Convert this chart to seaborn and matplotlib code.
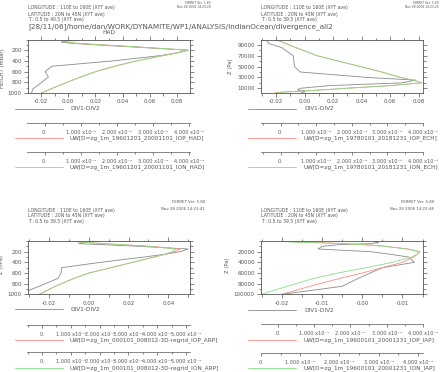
import numpy as np
import pandas as pd
import matplotlib
matplotlib.use("Agg")
import matplotlib.pyplot as plt
import seaborn as sns
from matplotlib.lines import Line2D
from matplotlib.ticker import FixedLocator, MultipleLocator, FormatStrFormatter

sns.set_theme(style="white")
plt.rcParams['font.family'] = ['DejaVu Sans']
plt.rcParams['axes.unicode_minus'] = False

# ---------------- data ----------------
LEV_HPA = [1000, 925, 850, 700, 600, 500, 400, 300, 250, 200, 150, 100, 70, 50, 30, 20, 10]
LEV_PA = [100000, 92500, 85000, 70000, 60000, 50000, 40000, 30000, 25000, 20000,
          15000, 10000, 7000, 5000, 3000, 2000, 1000]

HAD_DIV = [-0.027, -0.026, -0.022, -0.0146, -0.017, -0.012, 0.033, 0.068, 0.080, 0.088,
           0.055, 0.020, 0.002, -0.005, -0.004, 0.000, 0.002]
HAD_IOP = [-0.0197, -0.0128, -0.0058, 0.0093, 0.0203, 0.0343, 0.0503, 0.0702, 0.0801, 0.0881,
           0.0582, 0.0252, 0.0058, -0.0012, -0.0035, 0.004, 0.000]
HAD_ION = [-0.020, -0.013, -0.006, 0.009, 0.020, 0.034, 0.050, 0.070, 0.080, 0.088,
           0.058, 0.025, 0.006, -0.001, -0.003, 0.008, 0.005]

ECH_DIV = [-0.027, -0.025, -0.016, -0.008, -0.0075, -0.007, -0.003, 0.044, 0.078, 0.068,
           0.018, -0.003, -0.005, 0.000, 0.000, -0.002, -0.002]
ECH_IOP = [-0.0205, -0.0134, -0.0062, 0.0088, 0.0238, 0.0392, 0.0542, 0.0672, 0.0762, 0.0822,
           0.0602, 0.0292, 0.0118, -0.0002, -0.0155, -0.0200, -0.0210]
ECH_ION = [-0.020, -0.013, -0.006, 0.009, 0.024, 0.039, 0.054, 0.067, 0.076, 0.082,
           0.060, 0.029, 0.012, 0.000, -0.015, -0.019, -0.019]

ARP_DIV = [-0.034, -0.030, -0.025, -0.0155, -0.014, -0.0137, 0.006, 0.028, 0.038, 0.046,
           0.050, 0.025, 0.008, -0.005, -0.003, 0.000, 0.002]
ARP_IOP = [-0.0248, -0.0208, -0.0168, -0.0073, 0.0002, 0.0112, 0.0222, 0.0332, 0.0385, 0.043,
           0.046, 0.032, 0.018, 0.008, 0.000, -0.004, -0.006]
ARP_ION = [-0.025, -0.021, -0.017, -0.0075, 0.000, 0.011, 0.022, 0.033, 0.038, 0.042,
           0.044, 0.030, 0.017, 0.008, 0.000, -0.004, -0.007]

IAP_DIV = [-0.020, -0.0125, -0.005, -0.001, 0.002, 0.005, 0.013, 0.0115, 0.007, 0.002,
           -0.011, -0.010, -0.006, 0.002, 0.004, 0.0035, 0.003]
IAP_IOP = [-0.020, -0.0165, -0.013, -0.0055, 0.000, 0.005, 0.010, 0.0128, 0.0136, 0.014,
           0.0115, 0.006, 0.001, -0.004, -0.011, -0.015, -0.018]
IAP_ION = [-0.025, -0.022, -0.0187, -0.012, -0.006, 0.001, 0.0075, 0.0122, 0.0137, 0.0144,
           0.011, 0.0055, 0.000, -0.005, -0.013, -0.017, -0.020]

SERIES = ['DIV1-DIV2', 'IOP', 'ION']
COLORS = {'DIV1-DIV2': '#8a8a8a', 'IOP': '#ff8a8a', 'ION': '#86de86'}

HEADER_LON = "LONGITUDE : 110E to 160E (XYT ave)"
HEADER_LAT = "LATITUDE : 20N to 45N (XYT ave)"
T_HAD = "T : 0.5 to 40.5 (XYT ave)"
T_OTHER = "T : 0.5 to 39.5 (XYT ave)"
PATH_TITLE = "[28/11/06]/home/dan/WORK/DYNAMITE/WP1/ANALYSIS/IndianOcean/divergence_all2"

LABELS_HAD = ["UW[D=zg_1m_19601201_20001101_IOP_HAD]", "UW[D=zg_1m_19601201_20001101_ION_HAD]"]
LABELS_ECH = ["UW[D=zg_1m_19780101_20181231_IOP_ECH]", "UW[D=zg_1m_19780101_20181231_ION_ECH]"]
LABELS_ARP = ["UW[D=zg_1m_000101_008012-3D-regrid_IOP_ARP]", "UW[D=zg_1m_000101_008012-3D-regrid_ION_ARP]"]
LABELS_IAP = ["UW[D=zg_1m_19600101_20001231_IOP_IAP]", "UW[D=zg_1m_19600101_20001231_ION_IAP]"]

SUP = {-3: "\u207b\u00b3", -4: "\u207b\u2074"}

# ---------------- figure ----------------
W, H = 442, 372
fig = plt.figure(figsize=(W / 100, H / 100), dpi=100)
fig.patch.set_facecolor('white')
TXT = '#555555'
FRAME = '#555555'


def rect(x0, y0, x1, y1):
    return [x0 / W, 1 - y1 / H, (x1 - x0) / W, (y1 - y0) / H]


def fx(x):
    return x / W


def fy(y):
    return 1 - y / H


def long_df(levels, div, iop, ion):
    frames = []
    for name, vals in zip(SERIES, [div, iop, ion]):
        frames.append(pd.DataFrame({'div': vals, 'p': levels, 'series': name}))
    return pd.concat(frames, ignore_index=True)


panels = [
    dict(levels=LEV_HPA, div=HAD_DIV, iop=HAD_IOP, ion=HAD_ION,
         box=(28, 39.5, 190, 93), xlim=(-0.0296, 0.0896), ylim=(1000, 0),
         xt=[-0.02, 0.0, 0.02, 0.04, 0.06, 0.08], xm=0.01,
         yt=[200, 400, 600, 800, 1000], ym=100,
         ylabel="HEIGHT (mbar)", ylab_px=(5, 68),
         hx=28, hy=[8, 14.3, 20], tline=T_HAD,
         stamp=(211, 3, 7, "Nov 28 2006 14:23:20", 2.2),
         rulers=[(27, 190, 123.3, 44.5, 36.2, 4, -4), (27, 190, 151.7, 44.5, 36.2, 4, -4)],
         leg=(15, 63, 70, [109, 138.3, 167.3]), labels=LABELS_HAD),
    dict(levels=LEV_PA, div=ECH_DIV, iop=ECH_IOP, ion=ECH_ION,
         box=(261, 40, 423, 92.7), xlim=(-0.0305, 0.083), ylim=(1850, 99000),
         xt=[-0.02, 0.0, 0.02, 0.04, 0.06, 0.08], xm=0.01,
         yt=[10000, 30000, 50000, 70000, 90000], ym=10000,
         ylabel="Z (Pa)", ylab_px=(233, 66),
         hx=261, hy=[8, 14.3, 20], tline=T_OTHER,
         stamp=(439, 3, 7, "Nov 28 2006 14:23:25", 2.2),
         rulers=[(261, 423, 123.3, 280.5, 35.6, 4, -3), (261, 423, 152.3, 280.5, 35.6, 4, -3)],
         leg=(248, 296, 304, [109, 138.3, 167.3]), labels=LABELS_ECH),
    dict(levels=LEV_HPA, div=ARP_DIV, iop=ARP_IOP, ion=ARP_ION,
         box=(28, 241, 190, 294.3), xlim=(-0.0306, 0.0509), ylim=(1000, 0),
         xt=[-0.02, 0.0, 0.02, 0.04], xm=0.01,
         yt=[200, 400, 600, 800, 1000], ym=100,
         ylabel="Z (hPa)", ylab_px=(4, 265),
         hx=28, hy=[210, 215.7, 221.3], tline=T_OTHER,
         stamp=(205, 202, 209, "Nov 28 2006 14:23:41", 2.8),
         rulers=[(27, 190, 325, 42, 28.8, 5, -4), (27, 190, 351.7, 42, 28.8, 5, -4)],
         leg=(15, 63, 70, [309.3, 340, 368.3]), labels=LABELS_ARP),
    dict(levels=LEV_PA, div=IAP_DIV, iop=IAP_IOP, ion=IAP_ION,
         box=(261, 241, 423, 294.3), xlim=(-0.0252, 0.0151), ylim=(100000, 0),
         xt=[-0.02, -0.01, 0.0, 0.01], xm=0.005,
         yt=[20000, 40000, 60000, 80000, 100000], ym=10000,
         ylabel="Z (Pa)", ylab_px=(230, 265),
         hx=261, hy=[210, 215.7, 221.3], tline=T_OTHER,
         stamp=(434, 202, 209, "Nov 28 2006 14:23:44", 2.8),
         rulers=[(261, 423, 324, 278, 36.2, 4, -4), (261, 423, 352.7, 261, 39.2, 4, -4)],
         leg=(248, 296, 304, [310, 340, 368.3]), labels=LABELS_IAP),
]

for P in panels:
    x0, y0, x1, y1 = P['box']
    ax = fig.add_axes(rect(x0, y0, x1, y1))
    ax.set_facecolor('none')
    df = long_df(P['levels'], P['div'], P['iop'], P['ion'])
    sns.lineplot(data=df, x='div', y='p', hue='series', hue_order=SERIES,
                 palette=COLORS, sort=False, estimator=None, legend=False,
                 lw=0.6, ax=ax)
    ax.set_xlim(*P['xlim'])
    ax.set_ylim(*P['ylim'])
    ax.xaxis.set_major_locator(FixedLocator(P['xt']))
    ax.xaxis.set_minor_locator(MultipleLocator(P['xm']))
    ax.xaxis.set_major_formatter(FormatStrFormatter('%.2f'))
    ax.yaxis.set_major_locator(FixedLocator(P['yt']))
    ax.yaxis.set_minor_locator(MultipleLocator(P['ym']))
    ax.yaxis.set_major_formatter(FormatStrFormatter('%d'))
    ax.set_xlabel('')
    ax.set_ylabel(P['ylabel'], fontsize=3.8, color=TXT)
    lx, ly = P['ylab_px']
    ax.yaxis.set_label_coords((lx - x0) / (x1 - x0), 1 - (ly - y0) / (y1 - y0))
    for s in ax.spines.values():
        s.set_color(FRAME)
        s.set_linewidth(0.6)
    ax.tick_params(which='both', direction='out', top=True, right=True,
                   bottom=True, left=True, color=FRAME, width=0.5,
                   labelsize=4, labelcolor=TXT, pad=1.5)
    ax.tick_params(which='major', length=3)
    ax.tick_params(which='minor', length=1.8)

    # header
    for yy, t in zip(P['hy'], [HEADER_LON, HEADER_LAT, P['tline']]):
        fig.text(fx(P['hx']), fy(yy), t, fontsize=3.3, color=TXT, ha='left', va='center')
    sx, sy1, sy2, date, fs = P['stamp']
    fig.text(fx(sx), fy(sy1), "FERRET Ver. 5.80", fontsize=fs, color=TXT, ha='right', va='center')
    fig.text(fx(sx), fy(sy2), date, fontsize=fs, color=TXT, ha='right', va='center')

    # extra axes (rulers) for the overlaid UW variables
    for (rx0, rx1, ry, zero, step, n, ex) in P['rulers']:
        rax = fig.add_axes(rect(rx0, ry - 1, rx1, ry))
        rax.set_facecolor('none')
        unit = 10.0 ** ex
        rax.set_xlim((rx0 - zero) / step * unit, (rx1 - zero) / step * unit)
        rax.set_ylim(0, 1)
        rax.set_yticks([])
        ticks = [k * unit for k in range(n + 1)]
        labs = ['0.'] + [f'{k}.000 x10{SUP[ex]}' for k in range(1, n + 1)]
        rax.set_xticks(ticks)
        rax.set_xticklabels(labs)
        rax.xaxis.set_minor_locator(MultipleLocator(unit / 2))
        for k, s in rax.spines.items():
            s.set_visible(k == 'bottom')
            s.set_color(FRAME)
            s.set_linewidth(0.5)
        rax.tick_params(which='both', direction='out', bottom=True, color=FRAME,
                        width=0.5, labelsize=3.6, labelcolor=TXT, pad=2.5)
        rax.tick_params(which='major', length=2.5)
        rax.tick_params(which='minor', length=1.5)

    # legend keys
    lx0, lx1, tx, ys = P['leg']
    for yy, name, lab in zip(ys, SERIES, ['DIV1-DIV2'] + P['labels']):
        fig.add_artist(Line2D([fx(lx0), fx(lx1)], [fy(yy), fy(yy)], color=COLORS[name],
                              lw=0.6, transform=fig.transFigure))
        fig.text(fx(tx), fy(yy), lab, fontsize=4.15, color=TXT, ha='left', va='center')

# titles of the top-left panel
fig.text(fx(28), fy(26.5), PATH_TITLE, fontsize=5.2, color=TXT, ha='left', va='center')
fig.text(fx(109), fy(32.5), "HAD", fontsize=4.2, color=TXT, ha='center', va='center')

fig.savefig("out.png", dpi=100, facecolor='white')
